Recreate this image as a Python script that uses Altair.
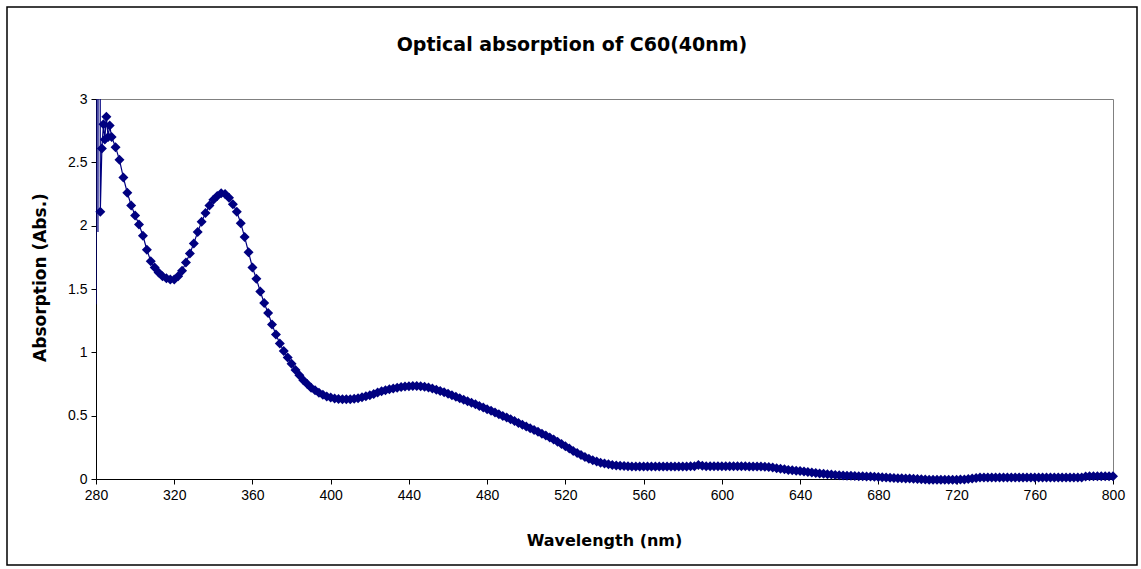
import altair as alt
import pandas as pd

# --- data ---
# noisy start of the spectrum (values above 3 are off-scale spikes)
wl_start = [280.0, 280.5, 281.0, 281.6, 282.2, 283.0, 283.8, 284.5, 285.3, 286.2, 287.0, 288.0]
abs_start = [1.38, 15.0, 1.95, 15.0, 2.11, 2.61, 2.80, 2.68, 2.86, 2.70, 2.79, 2.70]

# 290 .. 800 nm, every 2 nm
wl_main = list(range(290, 801, 2))
abs_main = [
    2.62, 2.52, 2.38, 2.26, 2.16, 2.08, 2.01, 1.92, 1.81, 1.72,
    1.67, 1.63, 1.60, 1.585, 1.575, 1.575, 1.60, 1.645, 1.71, 1.78,
    1.86, 1.95, 2.03, 2.10, 2.16, 2.205, 2.235, 2.255, 2.25, 2.22,
    2.17, 2.11, 2.02, 1.91, 1.79, 1.67, 1.58, 1.48, 1.39, 1.31,
    1.22, 1.14, 1.07, 1.01, 0.96, 0.91, 0.86, 0.82, 0.78, 0.75,
    0.72, 0.70, 0.68, 0.665, 0.652, 0.643, 0.636, 0.632, 0.630, 0.629,
    0.630, 0.633, 0.638, 0.645, 0.653, 0.662, 0.672, 0.682, 0.692, 0.700,
    0.708, 0.715, 0.721, 0.726, 0.730, 0.733, 0.735, 0.735, 0.733, 0.728,
    0.722, 0.714, 0.705, 0.695, 0.684, 0.673, 0.662, 0.650, 0.638, 0.626,
    0.614, 0.602, 0.590, 0.577, 0.564, 0.551, 0.538, 0.525, 0.512, 0.498,
    0.485, 0.471, 0.457, 0.443, 0.429, 0.415, 0.401, 0.387, 0.373, 0.358,
    0.343, 0.327, 0.311, 0.294, 0.276, 0.258, 0.240, 0.222, 0.205, 0.189,
    0.174, 0.160, 0.148, 0.138, 0.129, 0.122, 0.116, 0.111, 0.107, 0.104,
    0.102, 0.100, 0.099, 0.098, 0.098, 0.098, 0.098, 0.098, 0.098, 0.098,
    0.098, 0.098, 0.098, 0.099, 0.099, 0.099, 0.099, 0.100, 0.101, 0.110,
    0.104, 0.101, 0.100, 0.100, 0.100, 0.100, 0.100, 0.100, 0.100, 0.100,
    0.100, 0.100, 0.099, 0.099, 0.099, 0.098, 0.097, 0.094, 0.090, 0.085,
    0.080, 0.076, 0.072, 0.069, 0.066, 0.063, 0.060, 0.056, 0.052, 0.048,
    0.044, 0.041, 0.038, 0.035, 0.032, 0.030, 0.028, 0.026, 0.025, 0.023,
    0.022, 0.021, 0.020, 0.019, 0.017, 0.015, 0.013, 0.011, 0.009, 0.007,
    0.006, 0.005, 0.004, 0.003, 0.001, 0.000, -0.002, -0.004, -0.005, -0.005,
    -0.005, -0.006, -0.006, -0.006, -0.005, -0.005, -0.004, -0.003, 0.000, 0.004,
    0.008, 0.011, 0.012, 0.012, 0.012, 0.012, 0.012, 0.012, 0.012, 0.012,
    0.012, 0.012, 0.012, 0.012, 0.012, 0.012, 0.012, 0.012, 0.012, 0.012,
    0.012, 0.012, 0.012, 0.012, 0.012, 0.012, 0.012, 0.012, 0.020, 0.022,
    0.022, 0.022, 0.022, 0.022, 0.022, 0.022,
]

x_ticks = [280, 320, 360, 400, 440, 480, 520, 560, 600, 640, 680, 720, 760, 800]
y_ticks = [0, 0.5, 1, 1.5, 2, 2.5, 3]
title_text = ["Optical absorption of C60(40nm)"]

df = pd.DataFrame({
    "wl": wl_start + wl_main,
    "a": abs_start + abs_main,
})

NAVY = "#000080"

x_enc = alt.X(
    "wl:Q",
    scale=alt.Scale(domain=[280, 800], nice=False, zero=False),
    axis=alt.Axis(values=x_ticks, title="Wavelength (nm)", format="d", labelFlush=False,
                  titleX=508, titleY=61, titleBaseline="middle", titleAlign="center",
                  titleFontSize=16),
)
y_enc = alt.Y(
    "a:Q",
    scale=alt.Scale(domain=[0, 3], nice=False),
    axis=alt.Axis(values=y_ticks, title="Absorption (Abs.)", labelFlush=False,
                  labelExpr="'' + datum.value",
                  titleX=-56, titleY=178, titleBaseline="middle", titleAlign="center",
                  titleFontSize=17),
)

line = alt.Chart(df).mark_line(color=NAVY, strokeWidth=1.2, clip=True).encode(x=x_enc, y=y_enc)
pts = alt.Chart(df).transform_filter(
    (alt.datum.a <= 3) & (alt.datum.wl >= 282)
).mark_point(
    shape="diamond", filled=True, color=NAVY, size=100, opacity=1
).encode(x="wl:Q", y="a:Q")

border = alt.Chart(alt.Data(values=[{}])).mark_rect(
    fill=None, stroke="black", strokeWidth=1.5
).encode(
    x=alt.value(-89), x2=alt.value(1041),
    y=alt.value(-92), y2=alt.value(466),
)

title = alt.Chart(alt.Data(values=[{"t": t} for t in title_text])).mark_text(
    font="DejaVu Sans", fontSize=19, fontWeight="bold", color="black",
    align="center", baseline="middle",
).encode(
    text="t:N", x=alt.value(476), y=alt.value(-54),
)

chart = alt.layer(line, pts, border, title).properties(
    width=1017,
    height=380,
    autosize=alt.AutoSizeParams(type="none"),
    padding={"left": 96, "top": 99, "right": 28, "bottom": 90},
    background="white",
).configure_view(
    stroke="#808080", strokeWidth=1
).configure_axis(
    grid=False,
    domainColor="black",
    tickColor="black",
    tickSize=5,
    labelFont="Liberation Sans",
    labelFontSize=14,
    labelColor="black",
    labelPadding=4,
    titleFont="DejaVu Sans",
    titleFontWeight="bold",
    titleColor="black",
)

chart.save("out.html", embed_options={"renderer": "svg", "actions": False})
